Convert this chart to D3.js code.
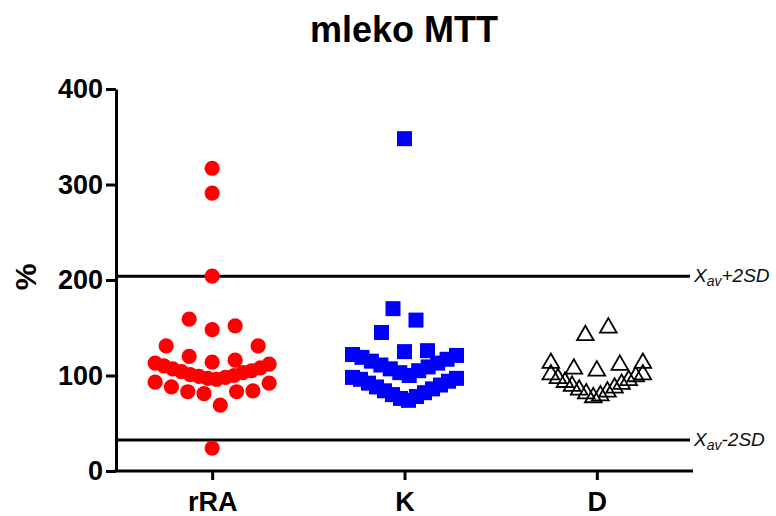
<!DOCTYPE html>
<html>
<head>
<meta charset="utf-8">
<script src="https://cdn.jsdelivr.net/npm/d3@7"></script>
<style>
  body { margin: 0; background: #fff; }
  svg { display: block; }
  text { font-family: "Liberation Sans", Arial, Helvetica, sans-serif; }
</style>
</head>
<body>
<svg id="chart" width="776" height="516"></svg>
<script>
// Groups and their measured values (%)
const categories = ["rRA", "K", "D"];
const rRA = [317, 291, 204, 159, 152, 148, 131, 131, 120, 116, 114,
             113, 112, 110, 108, 107, 105, 104, 103, 101, 100, 99, 98, 97, 96,
             93, 92, 88, 84, 83, 83, 81, 69, 24];
const K = [348, 170, 158, 145, 126, 125,
           122, 121, 119, 117, 115, 113, 111, 109, 107, 105, 103, 100,
           98, 97, 96, 94, 92, 90, 88, 86, 84, 82, 80, 78, 76, 74];
const D = [150, 142, 113, 113, 111, 107, 105,
           101, 101, 99, 97, 95, 93, 91, 89, 87, 85, 83, 81, 79, 77];
const yTicks = [0, 100, 200, 300, 400];
// Reference limits: mean + 2SD and mean - 2SD
const limitValues = [204, 32.5];
const limitSigns = ["+", "-"];

const seriesByGroup = { rRA, K, D };

const svg = d3.select("#chart");

const x = d3.scalePoint().domain(categories).range([116, 693]).padding(0.5);
const y = d3.scaleLinear().domain([0, 400]).range([471, 89]);

// Title
svg.append("text")
  .attr("x", 404).attr("y", 42)
  .attr("text-anchor", "middle")
  .attr("font-size", 36).attr("font-weight", "bold")
  .text("mleko MTT");

// Y axis title
svg.append("text")
  .attr("transform", "translate(36,277) rotate(-90)")
  .attr("text-anchor", "middle")
  .attr("font-size", 30).attr("font-weight", "bold")
  .text("%");

// Limit lines
const limits = svg.append("g");
limitValues.forEach((v, i) => {
  limits.append("line")
    .attr("x1", 116).attr("x2", 690)
    .attr("y1", y(v)).attr("y2", y(v))
    .attr("stroke", "#000").attr("stroke-width", 3);
  const t = limits.append("text")
    .attr("x", 694).attr("y", y(v) + 6)
    .attr("font-size", 19).attr("font-style", "italic").attr("fill", "#111");
  t.append("tspan").text("X");
  t.append("tspan").attr("font-size", 14).attr("dy", 4).text("av");
  t.append("tspan").attr("dy", -4).text(limitSigns[i] + "2SD");
});

// Axes
const yAxis = svg.append("g")
  .attr("transform", "translate(116,0)")
  .call(d3.axisLeft(y).tickValues(yTicks).tickSize(10).tickSizeOuter(0).tickPadding(3));
const xAxis = svg.append("g")
  .attr("transform", "translate(0,471)")
  .call(d3.axisBottom(x).tickSize(9).tickSizeOuter(0).tickPadding(12));

[yAxis, xAxis].forEach(g => {
  g.select(".domain").attr("stroke", "#000").attr("stroke-width", 3);
  g.selectAll(".tick line").attr("stroke", "#000").attr("stroke-width", 3);
  g.selectAll(".tick text")
    .attr("fill", "#000")
    .attr("font-family", "'Liberation Sans', Arial, sans-serif")
    .attr("font-size", 27).attr("font-weight", "bold");
});
xAxis.select(".domain").attr("d", "M114.5,0H693");

// Column scatter layout: sorted values are gathered into rows (a row spans at
// most ROW_SPAN units and holds at most ROW_CAP points); inside a row the
// lowest value sits in the middle and higher values fan outwards, alternating
// sides, squeezed to fit the column width.
const ROW_SPAN = 25, ROW_CAP = 14, MAX_STEP = 23, SYM = 15;
const halfWidth = { rRA: 57, K: 52, D: 46 };
const firstSide = { rRA: 1, K: 1, D: -1 };

function columnLayout(values, maxHalf, side) {
  const sorted = values.slice().sort((a, b) => a - b);
  const rows = [];
  let cur = null;
  for (const v of sorted) {
    if (!cur || v - cur[0] >= ROW_SPAN || cur.length >= ROW_CAP) {
      cur = [];
      rows.push(cur);
    }
    cur.push(v);
  }
  const placed = [];
  for (const vals of rows) {
    const n = vals.length;
    if (n === 1) {
      // lone points step aside from neighbours they would cover
      const py = y(vals[0]);
      const cands = [0, 12, -12, 24, -24].map(c => c * side);
      const dx = cands.find(c => !placed.some(p =>
        Math.abs(p.dx - c) < SYM && Math.abs(y(p.v) - py) < SYM)) ?? 0;
      placed.push({ v: vals[0], dx });
      continue;
    }
    const step = Math.min(MAX_STEP, 2 * maxHalf / (n - 1));
    const slots = d3.range(n).map(k => (k - (n - 1) / 2) * step * side)
      .sort((a, b) => Math.abs(a) - Math.abs(b) || (b - a) * side);
    vals.forEach((v, k) => placed.push({ v, dx: slots[k] }));
  }
  return placed;
}

const styles = {
  rRA: { type: d3.symbolCircle, size: Math.PI * 7.6 * 7.6, fill: "#ff0000", stroke: "none" },
  K:   { type: d3.symbolSquare, size: 15 * 15, fill: "#0000ff", stroke: "none" },
  D:   { type: d3.symbolTriangle, size: 120, fill: "none", stroke: "#000" }
};

categories.forEach(cat => {
  const st = styles[cat];
  const pts = columnLayout(seriesByGroup[cat], halfWidth[cat], firstSide[cat]);
  svg.append("g")
    .selectAll("path")
    .data(pts)
    .join("path")
    .attr("transform", d => `translate(${x(cat) + d.dx},${y(d.v)})`)
    .attr("d", d3.symbol().type(st.type).size(st.size))
    .attr("fill", st.fill)
    .attr("stroke", st.stroke)
    .attr("stroke-width", 1.8);
});
</script>
</body>
</html>
